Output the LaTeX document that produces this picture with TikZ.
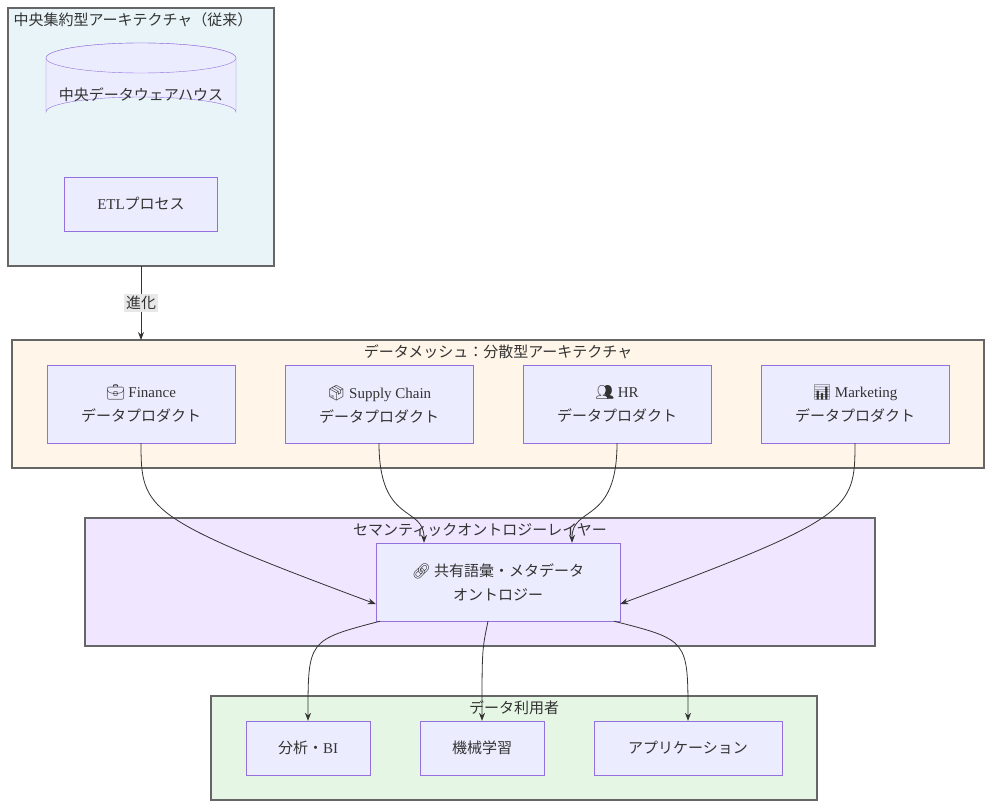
\documentclass[tikz,border=0pt]{standalone}
\usepackage{fontspec}
\setmainfont{Noto Sans CJK JP}
\newfontfamily\lat{Liberation Serif}
\newfontfamily\emo{Noto Emoji}
\usetikzlibrary{positioning}
\usetikzlibrary{shapes.geometric}
\usetikzlibrary{arrows.meta}
\definecolor{nodefill}{HTML}{ECECFF}
\definecolor{nodeline}{HTML}{9370DB}
\definecolor{txt}{HTML}{333333}
\definecolor{clline}{HTML}{666666}
\tikzset{
    cluster/.style = {draw=clline,line width=1.5pt},
    prod/.style = {rectangle,draw=nodeline,fill=nodefill,minimum width=188pt,minimum height=78pt,align=center,text=txt,font=\fontsize{15}{24}\selectfont},
    use/.style = {rectangle,draw=nodeline,fill=nodefill,minimum height=54pt,text=txt,font=\fontsize{15}{24}\selectfont},
    ctitle/.style = {text=txt,font=\fontsize{15}{20}\selectfont},
    flow/.style = {draw=txt,line width=0.8pt,-{Stealth[length=8pt,width=6pt]}}}
\begin{document}
\begin{tikzpicture}[x=1pt,y=-1pt]
    \useasboundingbox (0,0) rectangle (992,808);
    % clusters
    \draw[cluster,fill={rgb,255:red,232;green,244;blue,248}] (8,8) rectangle (274,266);
    \node[ctitle,anchor=west] (t1) at (10,20) {中央集約型アーキテクチャ（従来）};
    \draw[cluster,fill={rgb,255:red,255;green,245;blue,232}] (12,340) rectangle (984,468);
    \node[ctitle] (t2) at (498,352) {データメッシュ：分散型アーキテクチャ};
    \draw[cluster,fill={rgb,255:red,240;green,230;blue,255}] (85,518) rectangle (875,646);
    \node[ctitle] (t3) at (480,530) {セマンティックオントロジーレイヤー};
    \draw[cluster,fill={rgb,255:red,230;green,246;blue,228}] (211,696) rectangle (817,800);
    \node[ctitle] (t4) at (514,708) {データ利用者};
    % legacy
    \draw[draw=nodeline,fill=nodefill] (46,58) -- (46,112) arc[start angle=180,end angle=360,x radius=95,y radius=15] -- (236,58) arc[start angle=0,end angle=-180,x radius=95,y radius=15];
    \draw[draw=nodeline,fill=nodefill] (141,58) ellipse[x radius=95,y radius=15];
    \node[text=txt,font=\fontsize{15}{20}\selectfont] (dwh) at (141,95) {中央データウェアハウス};
    \node[use,minimum width=153pt] (etl) at (141,204) {{\lat ETL}プロセス};
    \coordinate (c1) at (141,266);
    \coordinate (c2) at (141,340);
    \draw[flow] (c1) -- node[fill={rgb,255:red,232;green,232;blue,232},inner sep=2pt,text=txt,font=\fontsize{15}{20}\selectfont] (evo) {進化} (c2);
    % products
    \node[prod] (fin) at (141,404) {{\emo 💼} {\lat Finance}\\データプロダクト};
    \node[prod] (sup) at (379,404) {{\emo 📦} {\lat Supply Chain}\\データプロダクト};
    \node[prod] (hr) at (617,404) {{\emo 👥} {\lat HR}\\データプロダクト};
    \node[prod] (mkt) at (855,404) {{\emo 📊} {\lat Marketing}\\データプロダクト};
    % ontology
    \node[prod,minimum width=244pt] (ont) at (498,582) {{\emo 🔗} 共有語彙・メタデータ\\オントロジー};
    % consumers
    \node[use,minimum width=124pt] (bi) at (308,748) {分析・{\lat BI}};
    \node[use,minimum width=124pt] (ml) at (482,748) {機械学習};
    \node[use,minimum width=188pt] (app) at (688,748) {アプリケーション};
    % edges
    \draw[flow] (fin.south) .. controls (141,510) and (145,518) .. ([yshift=-22pt]ont.west);
    \draw[flow] (sup.south) .. controls (379,525) and (424,505) .. ([xshift=-74pt]ont.north);
    \draw[flow] (hr.south) .. controls (617,525) and (572,505) .. ([xshift=74pt]ont.north);
    \draw[flow] (mkt.south) .. controls (855,510) and (851,518) .. ([yshift=-22pt]ont.east);
    \draw[flow] ([xshift=-118pt]ont.south) .. controls (308,640) and (308,640) .. (bi.north);
    \draw[flow] ([xshift=-10pt]ont.south) .. controls (482,650) and (482,650) .. (ml.north);
    \draw[flow] ([xshift=116pt]ont.south) .. controls (688,640) and (688,640) .. (app.north);
\end{tikzpicture}
\end{document}
